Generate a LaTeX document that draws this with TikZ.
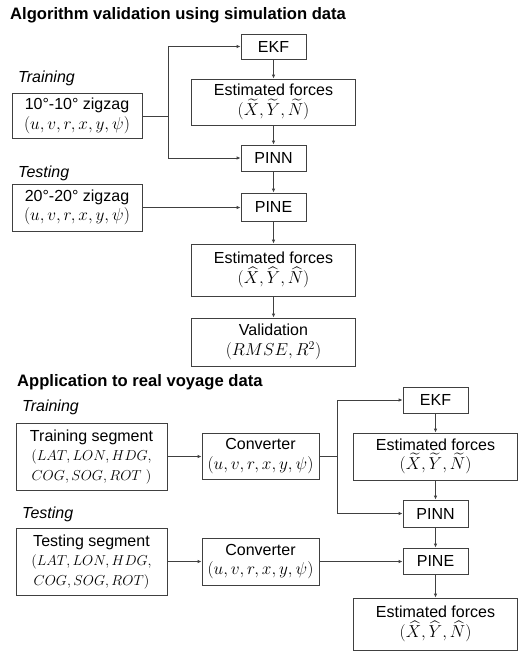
\documentclass[tikz,border=0pt]{standalone}
\usepackage{fontspec}
\usepackage{amsmath}
\setmainfont{Liberation Sans}
\usetikzlibrary{positioning,arrows.meta}

\newcommand{\mth}[1]{{\fontsize{17.5}{19.5}\selectfont$#1$}}
\newcommand{\mthsm}[1]{{\fontsize{15}{19.5}\selectfont$#1$}}

\tikzset{
  box/.style 2 args={draw=black!75, line width=0.8pt, minimum width=#1pt,
    minimum height=#2pt, inner sep=0pt, align=center,
    font=\fontsize{16}{19.5}\selectfont},
  head/.style={anchor=west, inner sep=0pt, font=\fontsize{16.6}{19}\selectfont\bfseries},
  phase/.style={anchor=west, inner sep=0pt, font=\fontsize{16}{18}\selectfont\itshape},
  flow/.style={draw=black!75, line width=0.8pt, -{Latex[length=4pt,width=3.5pt]}},
  wire/.style={draw=black!75, line width=0.8pt}
}

\begin{document}
\begin{tikzpicture}[x=1pt,y=-1pt]
\useasboundingbox (0,0) rectangle (518,653);

% simulation data
\node[head] (simtitle) at (10,15) {Algorithm validation using simulation data};
\node[phase] (trainA) at (18,78) {Training};
\node[phase] (testA) at (18,173) {Testing};

\node[box={130}{45}] (zigA) at (77,116) {10°-10° zigzag\\\mth{(u,v,r,x,y,\psi)}};
\node[box={130}{47}] (zigB) at (77,207.5) {20°-20° zigzag\\\mth{(u,v,r,x,y,\psi)}};

\node[box={65}{25}] (ekfA) at (273.5,46.5) {EKF};
\node[box={164}{46}] (forcesA) at (273.5,102)
  {Estimated forces\\\mth{(\widetilde{X},\widetilde{Y},\widetilde{N})}};
\node[box={65}{26}] (pinnA) at (273.5,158) {PINN};
\node[box={65}{28}] (pineA) at (273.5,207) {PINE};
\node[box={164}{52}] (forcesB) at (273.5,270)
  {Estimated forces\\\mth{(\widehat{X},\widehat{Y},\widehat{N})}};
\node[box={164}{48}] (valid) at (273.5,342) {Validation\\\mth{(RMSE,R^2)}};

\coordinate (splitA) at (168,116);
\draw[wire] (zigA.east) -- (splitA);
\draw[flow] (splitA) |- (ekfA.west);
\draw[flow] (splitA) |- (pinnA.west);
\draw[flow] (zigB.east) -- (zigB.east -| pineA.west);
\draw[flow] (ekfA) -- (forcesA);
\draw[flow] (forcesA) -- (pinnA);
\draw[flow] (pinnA) -- (pineA);
\draw[flow] (pineA) -- (forcesB);
\draw[flow] (forcesB) -- (valid);

% real voyage data
\node[head] (realtitle) at (17,382) {Application to real voyage data};
\node[phase] (trainB) at (22,407) {Training};
\node[phase] (testB) at (22,514) {Testing};

\node[box={151}{67}] (segA) at (91.5,456.5)
  {Training segment\\\mthsm{(LAT,LON,HDG,}\\\mthsm{COG,SOG,ROT\ )}};
\node[box={151}{67}] (segB) at (91.5,561.5)
  {Testing segment\\\mthsm{(LAT,LON,HDG,}\\\mthsm{COG,SOG,ROT)}};
\node[box={117}{46}] (convA) at (260.5,456) {Converter\\\mth{(u,v,r,x,y,\psi)}};
\node[box={117}{47}] (convB) at (260.5,561.5) {Converter\\\mth{(u,v,r,x,y,\psi)}};

\node[box={65}{26}] (ekfB) at (435.5,400) {EKF};
\node[box={164}{47}] (forcesC) at (435.5,456.5)
  {Estimated forces\\\mth{(\widetilde{X},\widetilde{Y},\widetilde{N})}};
\node[box={65}{27}] (pinnB) at (435.5,513.5) {PINN};
\node[box={65}{26}] (pineB) at (435.5,561) {PINE};
\node[box={164}{52}] (forcesD) at (435.5,624)
  {Estimated forces\\\mth{(\widehat{X},\widehat{Y},\widehat{N})}};

\coordinate (splitB) at (337,456);
\draw[flow] (segA.east) -- (segA.east -| convA.west);
\draw[wire] (convA.east) -- (splitB);
\draw[flow] (splitB) |- (ekfB.west);
\draw[flow] (splitB) |- (pinnB.west);
\draw[flow] (segB.east) -- (segB.east -| convB.west);
\draw[flow] (convB.east) -- (convB.east -| pineB.west);
\draw[flow] (ekfB) -- (forcesC);
\draw[flow] (forcesC) -- (pinnB);
\draw[flow] (pinnB) -- (pineB);
\draw[flow] (pineB) -- (forcesD);
\end{tikzpicture}
\end{document}
